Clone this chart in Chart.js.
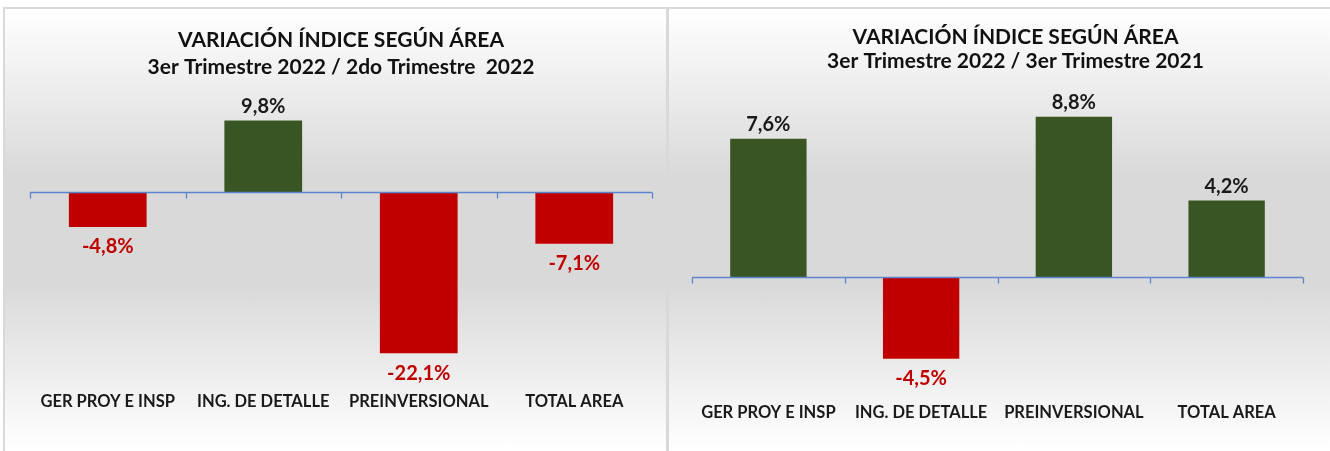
<!DOCTYPE html>
<html>
<head>
<meta charset="utf-8">
<script src="https://cdn.jsdelivr.net/npm/chart.js@4.4.1/dist/chart.umd.min.js"></script>
<style>
  html, body { margin: 0; padding: 0; background: #ffffff; width: 1330px; height: 451px; overflow: hidden; }
  .panel { position: absolute; box-sizing: border-box;
    background: linear-gradient(to bottom, #ffffff 0%, #d9d9d9 38%, #d9d9d9 62%, #ffffff 100%); }
  #p1 { left: 3px; top: 7px; width: 665px; height: 444px; border-left: 2px solid #d9d9d9; border-top: 2px solid #d9d9d9; border-right: 2px solid #d9d9d9; }
  #p2 { left: 667px; top: 7px; width: 663px; height: 444px; border-left: 2px solid #d9d9d9; border-top: 2px solid #d9d9d9; }
  canvas { display: block; }
</style>
</head>
<body>
<div class="panel" id="p1"><canvas id="c1" width="661" height="442"></canvas></div>
<div class="panel" id="p2"><canvas id="c2" width="661" height="442"></canvas></div>
<script>
const categories = ["GER PROY E INSP", "ING. DE DETALLE", "PREINVERSIONAL", "TOTAL AREA"];
const valuesQ3vsQ2 = [-4.8, 9.8, -22.1, -7.1];
const valuesQ3vsQ3 = [7.6, -4.5, 8.8, 4.2];
const title1 = ["VARIACIÓN ÍNDICE SEGÚN ÁREA", "3er Trimestre 2022 / 2do Trimestre  2022"];
const title2 = ["VARIACIÓN ÍNDICE SEGÚN ÁREA", "3er Trimestre 2022 / 3er Trimestre 2021"];

const GREEN = "#3a5524";
const RED = "#c00000";
const FONT = "Lato";

const fmt = v => v.toFixed(1).replace(".", ",") + "%";

const zeroAxisPlugin = {
  id: "zeroAxis",
  afterLayout(chart, args, opts) {
    if (opts && opts.titleShift && chart.titleBlock) {
      chart.titleBlock.left += 2 * opts.titleShift;
    }
  },
  afterDatasetsDraw(chart) {
    const ctx = chart.ctx;
    const y = Math.round(chart.scales.y.getPixelForValue(0)) + 0.5;
    const left = chart.chartArea.left, right = chart.chartArea.right;
    ctx.save();
    ctx.strokeStyle = "#5b86cf";
    ctx.lineWidth = 1.3;
    ctx.beginPath();
    ctx.moveTo(left, y);
    ctx.lineTo(right, y);
    const n = chart.data.labels.length;
    for (let i = 0; i <= n; i++) {
      const px = Math.round(left + (right - left) * i / n) + 0.5;
      ctx.moveTo(px, y);
      ctx.lineTo(px, y + 6);
    }
    ctx.stroke();
    ctx.restore();
  }
};

const valueLabelPlugin = {
  id: "valueLabels",
  afterDatasetsDraw(chart) {
    const ctx = chart.ctx;
    const meta = chart.getDatasetMeta(0);
    const data = chart.data.datasets[0].data;
    ctx.save();
    ctx.font = "bold 20px " + FONT;
    ctx.textAlign = "center";
    ctx.textBaseline = "middle";
    meta.data.forEach((bar, i) => {
      const v = data[i];
      if (v >= 0) {
        ctx.fillStyle = "#1a1a1a";
        ctx.fillText(fmt(v), bar.x, bar.y - 14);
      } else {
        ctx.fillStyle = RED;
        ctx.fillText(fmt(v), bar.x, bar.y + 20);
      }
    });
    ctx.restore();
  }
};

function makeChart(id, values, title, opts) {
  return new Chart(document.getElementById(id), {
    type: "bar",
    data: {
      labels: categories,
      datasets: [{
        data: values,
        backgroundColor: values.map(v => v >= 0 ? GREEN : RED),
        borderWidth: 0,
        barPercentage: 0.5,
        categoryPercentage: 1.0
      }]
    },
    options: {
      responsive: false,
      animation: false,
      devicePixelRatio: 1,
      layout: { padding: opts.padding },
      plugins: {
        legend: { display: false },
        tooltip: { enabled: false },
        zeroAxis: { titleShift: opts.titleShift },
        title: {
          display: true,
          text: title,
          color: "#111111",
          font: { family: FONT, size: 21, weight: "bold", lineHeight: opts.titleLH },
          padding: opts.titlePad
        }
      },
      scales: {
        x: {
          grid: { display: false, drawTicks: false },
          border: { display: false },
          afterFit: s => { s.height = 50; },
          ticks: { color: "#1a1a1a", padding: opts.tickPad, maxRotation: 0, autoSkip: false,
                   font: { family: FONT, size: 16.5, weight: "bold" } }
        },
        y: {
          display: false,
          min: opts.min, max: opts.max
        }
      }
    },
    plugins: [zeroAxisPlugin, valueLabelPlugin]
  });
}

makeChart("c1", valuesQ3vsQ2, title1, {
  padding: { left: 25, right: 14, top: 0, bottom: 26.5 },
  titleLH: 1.286, titlePad: { top: 17.5, bottom: 2 }, titleShift: 0,
  tickPad: 17, min: -25, max: 15
});
makeChart("c2", valuesQ3vsQ3, title2, {
  padding: { left: 23, right: 27, top: 0, bottom: 15 },
  titleLH: 1.143, titlePad: { top: 16, bottom: 22 }, titleShift: 18,
  tickPad: 17, min: -6, max: 10
});
</script>
</body>
</html>
